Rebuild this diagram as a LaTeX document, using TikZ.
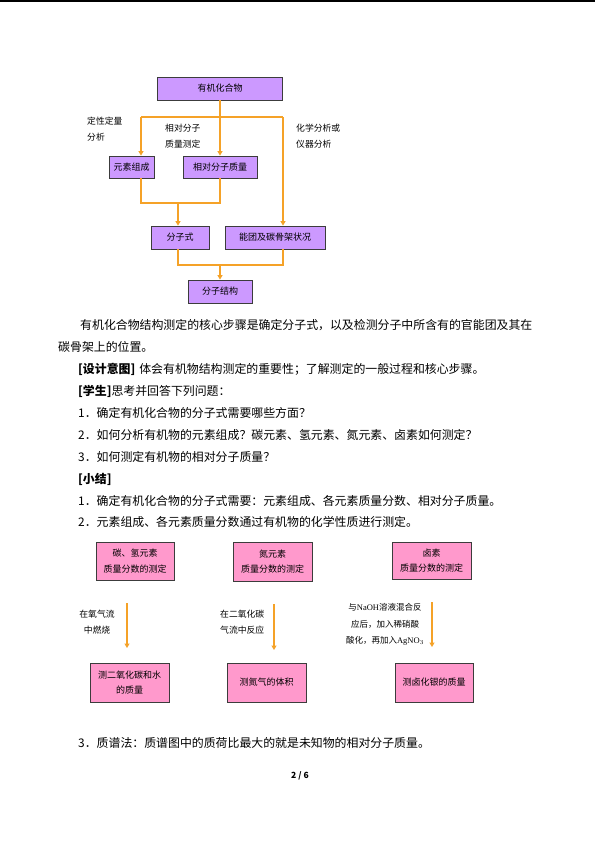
\documentclass[tikz,border=0pt]{standalone}
\usepackage{fontspec}
\setmainfont{Liberation Serif}
\newfontfamily\cjk{Noto Sans CJK SC}
\usetikzlibrary{arrows.meta}
\definecolor{orng}{RGB}{245,162,40}
\definecolor{purp}{RGB}{204,153,255}
\definecolor{pnk}{RGB}{255,153,204}
\definecolor{bord}{RGB}{60,60,60}
\begin{document}
\begin{tikzpicture}[x=1pt,y=-1pt,
  pbox/.style={draw=bord, line width=0.8pt, fill=purp, inner sep=0pt, font=\cjk\fontsize{9}{10}\selectfont},
  kbox/.style={draw=bord, line width=0.8pt, fill=pnk, inner sep=0pt, align=center, font=\cjk\fontsize{9}{15.5}\selectfont},
  oline/.style={draw=orng, line width=1.8pt},
  oarr/.style={oline, -{Triangle[length=4.5pt,width=5pt]}},
  lbl/.style={inner sep=0pt, font=\cjk\fontsize{8.8}{16}\selectfont},
  body/.style={anchor=base west, inner sep=0pt, font=\cjk\fontsize{11.9}{14}\selectfont}
]
\useasboundingbox (0,0) rectangle (595,841);
\fill[white] (0,0) rectangle (595,841);
\draw[line width=1.5pt] (0,0.75) -- (595,0.75);

% ---------- top flowchart ----------
\node[pbox, minimum width=125pt, minimum height=23pt] (top) at (220,88.5) {有机化合物};
\node[pbox, minimum width=45pt, minimum height=22pt] (yuan) at (131.5,167) {元素组成};
\node[pbox, minimum width=74pt, minimum height=22pt] (xd) at (220,167) {相对分子质量};
\node[pbox, minimum width=58pt, minimum height=23pt] (fzs) at (180,237.5) {分子式};
\node[pbox, minimum width=100pt, minimum height=23pt] (nt) at (275,237.5) {能团及碳骨架状况};
\node[pbox, minimum width=64pt, minimum height=23pt] (jg) at (220,291.5) {分子结构};

\node[lbl, anchor=west, align=left] (la) at (87,129) {定性定量\\分析};
\node[lbl, anchor=west, align=left] (lb) at (165,136) {相对分子\\质量测定};
\node[lbl, anchor=west, align=left] (lc) at (296,136) {化学分析或\\仪器分析};

\coordinate (jl) at (141,117);
\coordinate (jr) at (283,117);
\coordinate (jc) at (220,117);
\draw[oline] (top.south) -- (jc);
\draw[oline] (jl) -- (jr);
\draw[oarr] (jl) -- (jl |- yuan.north);
\draw[oarr] (jc) -- (xd.north);
\draw[oarr] (jr) -- (jr |- nt.north);

\coordinate (m1) at (141,203);
\coordinate (m2) at (220,203);
\coordinate (m3) at (178,203);
\draw[oline] (jl |- yuan.south) -- (m1) -- (m2) -- (xd.south);
\draw[oarr] (m3) -- (m3 |- fzs.north);

\coordinate (n1) at (178,265);
\coordinate (n2) at (283,265);
\coordinate (n3) at (220,265);
\draw[oline] (n1 |- fzs.south) -- (n1) -- (n2) -- (n2 |- nt.south);
\draw[oarr] (n3) -- (jg.north);

% ---------- body text ----------
\node[body] (t1) at (80,329.5) {有机化合物结构测定的核心步骤是确定分子式，以及检测分子中所含有的官能团及其在};
\node[body] (t2) at (58,351.5) {碳骨架上的位置。};
\node[body] (t3) at (78,373.5) {\textbf{[设计意图]}\hspace{4pt}体会有机物结构测定的重要性；了解测定的一般过程和核心步骤。};
\node[body] (t4) at (78,395.5) {\textbf{[学生]}思考并回答下列问题：};
\node[body] (t5) at (78,417.5) {1．确定有机化合物的分子式需要哪些方面？};
\node[body] (t6) at (78,439.5) {2．如何分析有机物的元素组成？碳元素、氢元素、氮元素、卤素如何测定？};
\node[body] (t7) at (78,461.5) {3．如何测定有机物的相对分子质量？};
\node[body] (t8) at (78,483.5) {\textbf{[小结]}};
\node[body] (t9) at (78,505.5) {1．确定有机化合物的分子式需要：元素组成、各元素质量分数、相对分子质量。};
\node[body] (t10) at (78,526.5) {2．元素组成、各元素质量分数通过有机物的化学性质进行测定。};

% ---------- bottom boxes ----------
\node[kbox, minimum width=78pt, minimum height=38pt] (b1) at (135,561) {碳、氢元素\\质量分数的测定};
\node[kbox, minimum width=79pt, minimum height=39pt] (b2) at (272.5,561.5) {氮元素\\质量分数的测定};
\node[kbox, minimum width=79pt, minimum height=37pt] (b3) at (431.5,560.5) {卤素\\质量分数的测定};

\coordinate (a1s) at (127,603); \coordinate (a1e) at (127,648);
\coordinate (a2s) at (274,604); \coordinate (a2e) at (274,650);
\coordinate (a3s) at (432,602); \coordinate (a3e) at (432,647);
\draw[oarr] (a1s) -- (a1e);
\draw[oarr] (a2s) -- (a2e);
\draw[oarr] (a3s) -- (a3e);

\node[lbl, align=center] (l1) at (97,622.5) {在氧气流\\中燃烧};
\node[lbl, align=left, anchor=west] (l2) at (220,622.5) {在二氧化碳\\气流中反应};
\node[lbl, align=center, font=\cjk\fontsize{8.5}{16.5}\selectfont] (l3) at (385,624.5) {与{\rmfamily NaOH}溶液混合反\\应后，加入稀硝酸\\酸化，再加入{\rmfamily AgNO$_3$}};

\node[kbox, minimum width=79pt, minimum height=39pt, font=\cjk\fontsize{9}{14.5}\selectfont] (c1) at (129.5,682.5) {测二氧化碳和水\\的质量};
\node[kbox, minimum width=79pt, minimum height=39pt] (c2) at (266.5,682.5) {测氮气的体积};
\node[kbox, minimum width=78pt, minimum height=39pt] (c3) at (434,682.5) {测卤化银的质量};

\node[body] (t11) at (78,747.5) {3．质谱法：质谱图中的质荷比最大的就是未知物的相对分子质量。};
\node[inner sep=0pt, font=\cjk\bfseries\fontsize{8.5}{10}\selectfont] (pg) at (300,776) {2 / 6};
\end{tikzpicture}
\end{document}
